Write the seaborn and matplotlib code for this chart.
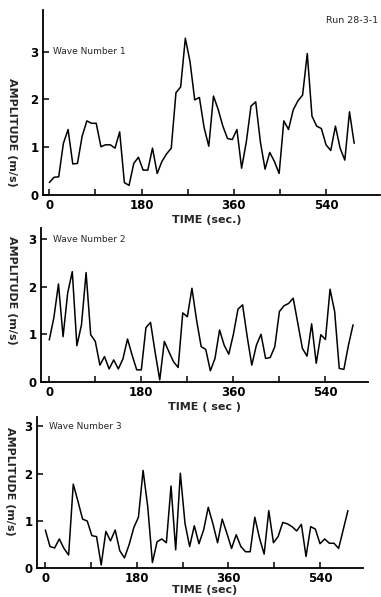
import numpy as np
import pandas as pd
import matplotlib
matplotlib.use("Agg")
import matplotlib.pyplot as plt
import seaborn as sns

# ---- data ----
wave1_amp = [0.26, 0.37, 0.38, 1.08, 1.37, 0.65, 0.66, 1.23, 1.55, 1.50, 1.50, 1.01,
             1.05, 1.05, 0.98, 1.32, 0.26, 0.20, 0.66, 0.79, 0.52, 0.52, 0.98, 0.45,
             0.70, 0.86, 0.98, 2.14, 2.26, 3.28, 2.79, 1.99, 2.04, 1.41, 1.02, 2.07,
             1.79, 1.44, 1.18, 1.16, 1.37, 0.56, 1.11, 1.86, 1.95, 1.11, 0.54, 0.89,
             0.70, 0.45, 1.55, 1.37, 1.78, 1.97, 2.09, 2.96, 1.65, 1.44, 1.39, 1.05,
             0.93, 1.44, 0.98, 0.73, 1.74, 1.08]
wave2_amp = [0.88, 1.35, 2.06, 0.95, 1.87, 2.32, 0.76, 1.20, 2.30, 0.99, 0.85, 0.35,
             0.53, 0.27, 0.46, 0.27, 0.48, 0.90, 0.56, 0.25, 0.25, 1.14, 1.25, 0.62,
             0.04, 0.85, 0.63, 0.42, 0.30, 1.45, 1.37, 1.97, 1.30, 0.74, 0.68, 0.23,
             0.49, 1.09, 0.77, 0.58, 1.00, 1.53, 1.62, 0.95, 0.35, 0.77, 1.00, 0.49,
             0.51, 0.74, 1.48, 1.60, 1.65, 1.76, 1.23, 0.70, 0.54, 1.22, 0.39, 0.99,
             0.89, 1.95, 1.48, 0.28, 0.26, 0.77, 1.20]
wave3_amp = [0.81, 0.46, 0.43, 0.62, 0.42, 0.28, 1.78, 1.42, 1.04, 1.00, 0.69, 0.67,
             0.07, 0.78, 0.58, 0.81, 0.37, 0.22, 0.50, 0.86, 1.08, 2.07, 1.30, 0.12,
             0.56, 0.62, 0.54, 1.74, 0.39, 2.01, 0.95, 0.46, 0.90, 0.52, 0.81, 1.29,
             0.94, 0.54, 1.04, 0.74, 0.42, 0.71, 0.46, 0.35, 0.35, 1.08, 0.64, 0.30,
             1.22, 0.54, 0.67, 0.97, 0.94, 0.88, 0.79, 0.93, 0.25, 0.88, 0.83, 0.52,
             0.62, 0.53, 0.53, 0.42, 0.82, 1.22]
record_end_sec = 595
panel_titles = ["Wave Number 1", "Wave Number 2", "Wave Number 3"]
xlabels = ["TIME (sec.)", "TIME ( sec )", "TIME (sec)"]
ylabel = "AMPLITUDE (m/s)"
run_label = "Run 28-3-1"
xtick_major = [0, 180, 360, 540]
xtick_minor = [90, 270, 450]
ytick_vals = [0, 1, 2, 3]

series = [wave1_amp, wave2_amp, wave3_amp]

sns.set_style("ticks")
plt.rcParams['font.family'] = ['DejaVu Sans']

fig = plt.figure(figsize=(3.81, 5.97), dpi=100)

# axes rectangles (figure fraction) and limits
rects = [[0.1121, 0.6734, 0.8853, 0.3098],
         [0.1068, 0.3606, 0.8598, 0.2575],
         [0.0963, 0.0481, 0.8556, 0.2534]]
xlims = [(-12.9, 645.4), (-16.8, 624.8), (-17.0, 624.0)]
ylims = [(0, 3.87), (0, 3.24), (0, 3.2)]
ylab_pos = [(0.031, 0.779), (0.031, 0.514), (0.026, 0.194)]
xlab_pos = [(0.543, 0.631), (0.538, 0.318), (0.538, 0.012)]

for i, amp in enumerate(series):
    ax = fig.add_axes(rects[i])
    n = len(amp)
    t = np.linspace(0, record_end_sec, n)
    df = pd.DataFrame({"time": t, "amp": amp})
    sns.lineplot(data=df, x="time", y="amp", ax=ax, color="black", linewidth=1.1)
    ax.set_xlim(*xlims[i])
    ax.set_ylim(*ylims[i])
    sns.despine(ax=ax)
    for s in ["left", "bottom"]:
        ax.spines[s].set_linewidth(1.3)
        ax.spines[s].set_color("black")
    ax.set_xticks(xtick_major)
    ax.set_xticks(xtick_minor, minor=True)
    ax.set_yticks(ytick_vals)
    ax.set_xticklabels([str(v) for v in xtick_major], fontsize=8.5, fontweight="bold")
    ax.set_yticklabels([str(v) for v in ytick_vals], fontsize=8.5, fontweight="bold")
    ax.tick_params(axis="both", which="both", direction="in", length=4, width=1.1,
                   color="black", labelcolor="black")
    ax.tick_params(axis="x", pad=3)
    ax.tick_params(axis="y", pad=3)
    ax.set_xlabel("")
    ax.set_ylabel("")
    ax.text(7, 3.0, panel_titles[i], fontsize=6.5, va="center", ha="left")
    fig.text(*ylab_pos[i], ylabel, rotation=-90, fontsize=8, fontweight="bold",
             ha="center", va="center")
    fig.text(*xlab_pos[i], xlabels[i], fontsize=8, fontweight="bold",
             ha="center", va="center")

fig.text(0.992, 0.966, run_label, fontsize=6.8, ha="right", va="center")

fig.savefig("out.png", dpi=100)
